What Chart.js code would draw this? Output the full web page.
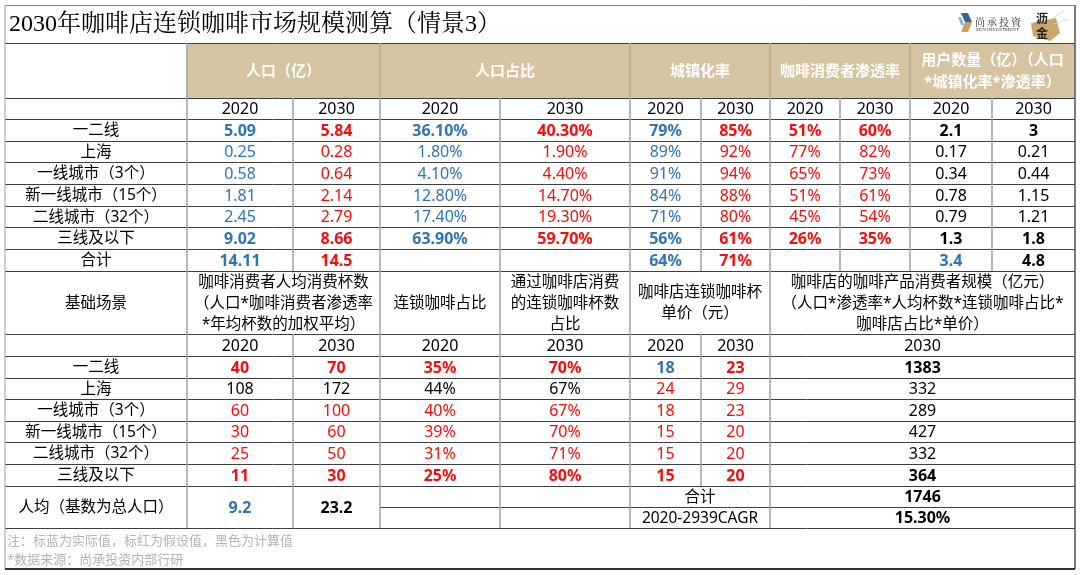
<!DOCTYPE html>
<html lang="zh">
<head>
    <meta charset="UTF-8">
    <title>2030年咖啡店连锁咖啡市场规模测算（情景3）</title>
    <script src="https://cdn.jsdelivr.net/npm/chart.js"></script>
    <style>
        html, body { margin: 0; padding: 0; background: #fff; }
        canvas { display: block; }
    </style>
</head>
<body>
    <canvas id="marketTable" width="1080" height="575"></canvas>

    <script>
        // ---- data ----
        const title = '2030年咖啡店连锁咖啡市场规模测算（情景3）';
        const regions = ['一二线', '上海', '一线城市（3个）', '新一线城市（15个）', '二线城市（32个）', '三线及以下'];
        const years = ['2020', '2030'];

        // part 1
        const pop2020 = [5.09, 0.25, 0.58, 1.81, 2.45, 9.02];
        const pop2030 = [5.84, 0.28, 0.64, 2.14, 2.79, 8.66];
        const share2020 = [36.1, 1.8, 4.1, 12.8, 17.4, 63.9];
        const share2030 = [40.3, 1.9, 4.4, 14.7, 19.3, 59.7];
        const urban2020 = [79, 89, 91, 84, 71, 56];
        const urban2030 = [85, 92, 94, 88, 80, 61];
        const pen2020 = [51, 77, 65, 51, 45, 26];
        const pen2030 = [60, 82, 73, 61, 54, 35];
        const users2020 = [2.1, 0.17, 0.34, 0.78, 0.79, 1.3];
        const users2030 = [3, 0.21, 0.44, 1.15, 1.21, 1.8];
        const popTotal = [14.11, 14.5];
        const urbanTotal = [64, 71];
        const usersTotal = [3.4, 4.8];

        // part 2
        const cups2020 = [40, 108, 60, 30, 25, 11];
        const cups2030 = [70, 172, 100, 60, 50, 30];
        const chainShare2020 = [35, 44, 40, 39, 31, 25];
        const storeShare2030 = [70, 67, 67, 70, 71, 80];
        const price2020 = [18, 24, 18, 15, 15, 15];
        const price2030 = [23, 29, 23, 20, 20, 20];
        const market2030 = [1383, 332, 289, 427, 332, 364];
        const cupsAverage = [9.2, 23.2];
        const marketTotal = 1746;
        const marketCagr = 15.3;

        const head1 = ['人口（亿）', '人口占比', '城镇化率', '咖啡消费者渗透率', '用户数量（亿）（人口\n*城镇化率*渗透率）'];
        const head2 = ['基础场景', '咖啡消费者人均消费杯数\n（人口*咖啡消费者渗透率\n*年均杯数的加权平均）', '连锁咖啡占比',
            '通过咖啡店消费\n的连锁咖啡杯数\n占比', '咖啡店连锁咖啡杯\n单价（元）',
            '咖啡店的咖啡产品消费者规模（亿元）\n（人口*渗透率*人均杯数*连锁咖啡占比*\n咖啡店占比*单价）'];
        const notes = ['注：标蓝为实际值，标红为假设值，黑色为计算值', '*数据来源：尚承投资内部行研'];

        // ---- layout / style (sheet units, mapped through the chart scales) ----
        const colX = [5, 187, 293, 380, 500, 630, 701, 770, 840, 910, 992, 1075];
        const rows1 = [119, 141, 162, 184, 206, 227, 249, 271];
        const rows2 = [356, 378, 399, 421, 442, 464, 486];
        const pct = v => v.toFixed(2) + '%';
        const pc0 = v => v + '%';

        const part1 = [pop2020, pop2030, share2020.map(pct), share2030.map(pct), urban2020.map(pc0), urban2030.map(pc0),
            pen2020.map(pc0), pen2030.map(pc0), users2020, users2030];
        const part1Colors = 'BRBRBRRRKK';
        const part1Totals = [popTotal[0], popTotal[1], '', '', pc0(urbanTotal[0]), pc0(urbanTotal[1]), '', '', usersTotal[0], usersTotal[1]];
        const part1TotalColors = 'BRKKBRKKBK';

        const part2 = [cups2020, cups2030, chainShare2020.map(pc0), storeShare2030.map(pc0), price2020, price2030, market2030];
        const part2Spans = [[187, 293], [293, 380], [380, 500], [500, 630], [630, 701], [701, 770], [770, 1075]];
        const part2Colors = ['RRRRBRK', 'KKKKRRK', 'RRRRRRK', 'RRRRRRK', 'RRRRRRK', 'RRRRRRK'];

        const palette = { B: '#2e75b6', R: '#f50d0d', K: '#000000' };
        const SANS = '"Noto Sans", "Noto Sans CJK SC", sans-serif';

        const tablePlugin = {
            id: 'sheetTable',
            beforeDraw(chart) {
                const { ctx } = chart;
                ctx.save();
                ctx.fillStyle = '#ffffff';
                ctx.fillRect(0, 0, chart.width, chart.height);
                ctx.restore();
            },
            afterDraw(chart) {
                const { ctx, scales: { x, y } } = chart;
                const X = v => x.getPixelForValue(v);
                const Y = v => y.getPixelForValue(v);

                const text = (str, x0, x1, y0, y1, opts = {}) => {
                    const lines = String(str).split('\n');
                    const lh = opts.lh || 21;
                    ctx.font = `${opts.bold ? 'bold ' : ''}${opts.size || 15}px ${opts.family || SANS}`;
                    ctx.fillStyle = opts.color || '#000';
                    ctx.textAlign = opts.align || 'center';
                    ctx.textBaseline = 'middle';
                    const cx = opts.align === 'left' ? X(x0) : (X(x0) + X(x1)) / 2;
                    const cy = (Y(y0) + Y(y1)) / 2 - (lines.length - 1) * lh / 2;
                    lines.forEach((l, i) => ctx.fillText(l, cx, cy + i * lh + 1));
                };
                const hline = (yv, x0, x1, color = '#3f3f3f', w = 1) => {
                    ctx.strokeStyle = color; ctx.lineWidth = w;
                    const py = Math.round(Y(yv)) + (w % 2 ? 0.5 : 0);
                    ctx.beginPath(); ctx.moveTo(X(x0), py); ctx.lineTo(X(x1), py); ctx.stroke();
                };
                const vline = (xv, y0, y1, color = '#a6a6a6', w = 1.6) => {
                    ctx.strokeStyle = color; ctx.lineWidth = w;
                    const px = Math.round(X(xv));
                    ctx.beginPath(); ctx.moveTo(px, Y(y0)); ctx.lineTo(px, Y(y1)); ctx.stroke();
                };

                ctx.save();

                // title + logo
                text(title, 9, 9, 5, 43, { size: 24, align: 'left', family: '"Liberation Serif", "Noto Serif CJK SC", "Noto Sans CJK SC", serif' });
                ctx.fillStyle = '#2f63a8';
                ctx.beginPath(); ctx.moveTo(X(961), Y(13)); ctx.lineTo(X(968), Y(13)); ctx.lineTo(X(972), Y(22)); ctx.lineTo(X(965), Y(22)); ctx.fill();
                ctx.fillStyle = '#c9a35c';
                ctx.beginPath(); ctx.moveTo(X(965), Y(22)); ctx.lineTo(X(972), Y(22)); ctx.lineTo(X(968), Y(32)); ctx.lineTo(X(961), Y(32)); ctx.fill();
                ctx.fillStyle = '#8fb3dc';
                ctx.beginPath(); ctx.moveTo(X(958), Y(17)); ctx.lineTo(X(961), Y(17)); ctx.lineTo(X(964), Y(25)); ctx.lineTo(X(961), Y(25)); ctx.fill();
                ['尚', '承', '投', '資'].forEach((c, i) => text(c, 980 + i * 12, 980 + i * 12, 15, 27, { size: 10, color: '#333', family: '"Noto Serif CJK SC", "Noto Sans CJK SC", serif' }));
                text('ZEN INVESTMENT', 975, 1020, 26, 31, { size: 5, color: '#333', family: '"Liberation Serif", serif' });
                ctx.fillStyle = '#c8a66c';
                ctx.beginPath(); ctx.moveTo(X(1031), Y(23)); ctx.lineTo(X(1056), Y(18)); ctx.lineTo(X(1060), Y(33)); ctx.lineTo(X(1050), Y(41)); ctx.lineTo(X(1033), Y(36)); ctx.fill();
                ctx.strokeStyle = '#d6d6d6'; ctx.lineWidth = 1;
                ctx.beginPath(); ctx.moveTo(X(1050), Y(20)); ctx.lineTo(X(1064), Y(11)); ctx.moveTo(X(1054), Y(24)); ctx.lineTo(X(1068), Y(19)); ctx.stroke();
                text('沥', 1036, 1048, 10, 24, { size: 12, bold: true, color: '#222', family: '"Noto Sans CJK SC", sans-serif' });
                text('金', 1036, 1048, 25, 39, { size: 12, bold: true, color: '#222', family: '"Noto Sans CJK SC", sans-serif' });

                // tan header band
                ctx.fillStyle = '#d5c4a1';
                ctx.fillRect(X(187), Y(43), X(1075) - X(187), Y(98) - Y(43));

                // horizontal rules
                hline(43, 5, 1075);
                [98, ...rows1, 334, 356, ...rows2.slice(1), 528].forEach(v => hline(v, 5, 1075));
                hline(507, 380, 1075);

                // vertical rules
                vline(187, 43, 528);
                [380, 630, 770, 910].forEach(v => vline(v, 43, 98, '#b8ab90'));
                [293, 380, 500, 630, 701, 770, 840, 910, 992].forEach(v => vline(v, 98, 271));
                [380, 500, 630, 770].forEach(v => vline(v, 271, 334));
                [293, 380, 500, 630, 701, 770].forEach(v => vline(v, 334, 486));
                [293, 380, 500, 630, 770].forEach(v => vline(v, 486, 528));

                // outer frame
                hline(5, 5, 1075, '#8c8c8c');
                vline(5, 5, 569, '#a0a0a0', 1);
                vline(1075, 5, 569, '#505050', 1.5);
                hline(569, 5, 1075, '#333333', 2);

                // part 1 headers
                const head1Spans = [[187, 380], [380, 630], [630, 770], [770, 910], [910, 1075]];
                head1.forEach((h, i) => text(h, head1Spans[i][0], head1Spans[i][1], 43, 98, { bold: true, color: '#ffffff', lh: 22 }));
                for (let c = 0; c < 10; c++) text(years[c % 2], colX[c + 1], colX[c + 2], 98, 119, { size: 16 });

                // part 1 body
                regions.forEach((r, i) => text(r, 5, 187, rows1[i], rows1[i + 1], { size: 15.5 }));
                text('合计', 5, 187, rows1[6], rows1[7], { size: 15.5 });
                part1.forEach((col, c) => {
                    col.forEach((v, r) => text(v, colX[c + 1], colX[c + 2], rows1[r], rows1[r + 1], {
                        size: 16, color: palette[part1Colors[c]], bold: r === 0 || r === 5
                    }));
                    if (part1Totals[c] !== '') {
                        text(part1Totals[c], colX[c + 1], colX[c + 2], rows1[6], rows1[7], { size: 16, bold: true, color: palette[part1TotalColors[c]] });
                    }
                });

                // part 2 headers
                const head2Spans = [[5, 187], ...part2Spans.slice(0, 4), [630, 770], [770, 1075]];
                const head2Used = [head2Spans[0], [187, 380], [380, 500], [500, 630], [630, 770], [770, 1075]];
                head2.forEach((h, i) => text(h, head2Used[i][0], head2Used[i][1], 271, 334, { size: 15.5 }));
                part2Spans.forEach((s, c) => text(years[c === 6 ? 1 : c % 2], s[0], s[1], 334, 356, { size: 16 }));

                // part 2 body
                regions.forEach((r, i) => text(r, 5, 187, rows2[i], rows2[i + 1], { size: 15.5 }));
                part2.forEach((col, c) => {
                    col.forEach((v, r) => text(v, part2Spans[c][0], part2Spans[c][1], rows2[r], rows2[r + 1], {
                        size: 16, color: palette[part2Colors[r][c]], bold: r === 0 || r === 5
                    }));
                });

                // per-capita / totals block
                text('人均（基数为总人口）', 5, 187, 486, 528, { size: 15.5 });
                text(cupsAverage[0], 187, 293, 486, 528, { size: 16, bold: true, color: palette.B });
                text(cupsAverage[1], 293, 380, 486, 528, { size: 16, bold: true });
                text('合计', 630, 770, 486, 507, { size: 15.5 });
                text('2020-2939CAGR', 630, 770, 507, 528, { size: 15.5 });
                text(marketTotal, 770, 1075, 486, 507, { size: 16, bold: true });
                text(pct(marketCagr), 770, 1075, 507, 528, { size: 16, bold: true });

                // notes
                text(notes[0], 7, 7, 531, 549, { size: 13, align: 'left', color: '#b4b4b4' });
                text(notes[1], 7, 7, 550, 568, { size: 13, align: 'left', color: '#b4b4b4' });

                ctx.restore();
            }
        };

        new Chart(document.getElementById('marketTable'), {
            type: 'scatter',
            data: { datasets: [{ data: [] }] },
            options: {
                responsive: false,
                animation: false,
                layout: { padding: 0 },
                scales: {
                    x: { type: 'linear', min: 0, max: 1080, display: false },
                    y: { type: 'linear', min: 0, max: 575, reverse: true, display: false },
                },
                plugins: {
                    legend: { display: false },
                    tooltip: { enabled: false },
                },
            },
            plugins: [tablePlugin],
        });
    </script>
</body>
</html>
